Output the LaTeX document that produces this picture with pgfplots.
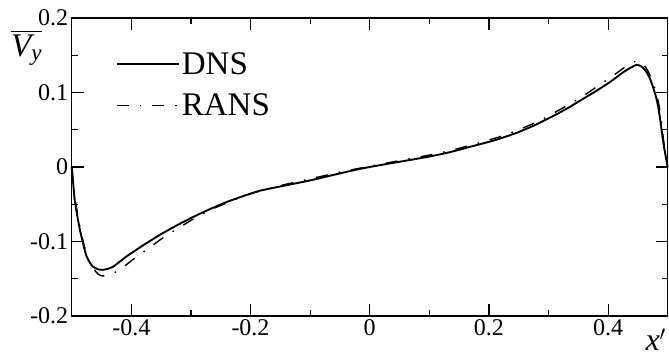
\documentclass[border=0pt]{standalone}
\usepackage{pgfplots}
\pgfplotsset{compat=1.18}
\usepackage{amsmath}
\usepackage{fontspec}
\setmainfont{Liberation Serif}

\pgfplotstableread{
x y
-0.5 0
-0.4975 -0.022
-0.495 -0.044
-0.4905 -0.066
-0.486 -0.085
-0.4805 -0.104
-0.475 -0.120
-0.469 -0.129
-0.464 -0.134
-0.455 -0.1375
-0.447 -0.138
-0.439 -0.1365
-0.431 -0.134
-0.42 -0.1275
-0.408 -0.120
-0.394 -0.1125
-0.38 -0.105
-0.366 -0.098
-0.352 -0.091
-0.324 -0.0785
-0.296 -0.067
-0.268 -0.0565
-0.24 -0.047
-0.212 -0.039
-0.185 -0.032
-0.14 -0.0245
-0.1 -0.018
-0.06 -0.0105
-0.025 -0.004
0 0
0.05 0.007
0.1 0.014
0.135 0.020
0.168 0.027
0.21 0.036
0.247 0.046
0.275 0.0555
0.302 0.066
0.33 0.078
0.357 0.091
0.38 0.102
0.403 0.114
0.415 0.121
0.425 0.127
0.436 0.1325
0.4475 0.137
0.456 0.135
0.464 0.128
0.47 0.119
0.475 0.108
0.48 0.095
0.484 0.081
0.488 0.060
0.492 0.036
0.496 0.017
0.5 0
}\dns

\pgfplotstableread{
x y
-0.5 0
-0.497 -0.022
-0.494 -0.044
-0.4895 -0.066
-0.485 -0.085
-0.4795 -0.104
-0.474 -0.120
-0.468 -0.131
-0.462 -0.138
-0.456 -0.1435
-0.45 -0.146
-0.44 -0.146
-0.43 -0.1425
-0.42 -0.138
-0.408 -0.131
-0.397 -0.124
-0.384 -0.1165
-0.371 -0.109
-0.358 -0.1015
-0.345 -0.094
-0.319 -0.081
-0.292 -0.068
-0.26 -0.055
-0.23 -0.045
-0.2 -0.036
-0.15 -0.025
-0.1 -0.016
-0.05 -0.007
0 0.001
0.05 0.0085
0.1 0.016
0.135 0.022
0.168 0.029
0.22 0.041
0.25 0.050
0.282 0.061
0.31 0.073
0.339 0.086
0.365 0.099
0.389 0.112
0.416 0.127
0.43 0.135
0.443 0.141
0.452 0.142
0.46 0.137
0.466 0.130
0.472 0.120
0.477 0.109
0.482 0.095
0.486 0.080
0.49 0.058
0.493 0.036
0.497 0.015
0.5 0
}\rans

\begin{document}
\begin{tikzpicture}
\begin{axis}[
  scale only axis, width=596pt, height=298pt,
  xmin=-0.5, xmax=0.5, ymin=-0.2, ymax=0.2,
  xtick={-0.4,-0.2,0,0.2,0.4},
  xticklabels={\textrm{-0.4},\textrm{-0.2},\textrm{0},\textrm{0.2},\textrm{0.4}},
  ytick={-0.2,-0.1,0,0.1,0.2},
  yticklabels={\textrm{-0.2},\textrm{-0.1},\textrm{0},\textrm{0.1},\textrm{0.2}},
  minor x tick num=1, minor y tick num=1,
  tick align=inside, major tick length=12pt, minor tick length=6pt,
  axis line style={line width=1.5pt},
  every tick/.style={line width=1.2pt, black},
  tick label style={font=\fontsize{24}{24}\selectfont},
  clip=false,
  legend cell align=left,
  legend style={draw=none, fill=none, inner sep=0pt, at={(rel axis cs:0.074,0.885)}, anchor=north west,
    font=\fontsize{33}{33}\selectfont, row sep=18pt,
    nodes={inner xsep=2pt, inner ysep=0pt}},
  legend image code/.code={\draw[#1] (0pt,0pt) -- (62pt,0pt);},
]
\addplot[black, line width=1.9pt, smooth, tension=0.4] table[x=x,y=y]{\dns};
\addlegendentry{DNS}
\addplot[black, line width=1.4pt, smooth, tension=0.4, dash pattern=on 12pt off 11pt on 1.5pt off 11pt] table[x=x,y=y]{\rans};
\addlegendentry{RANS}
\coordinate (A) at (rel axis cs:0,0);
\coordinate (B) at (rel axis cs:1,1);
\node[font=\fontsize{33}{33}\selectfont, inner sep=0pt] at ([xshift=-45pt,yshift=-30pt]rel axis cs:0,1) {$\overline{\text{\itshape V}_{\text{\itshape y}}}$};
\node[font=\fontsize{32}{32}\selectfont, inner sep=0pt, anchor=base] at ([xshift=-12pt,yshift=-34pt]rel axis cs:1,0) {\itshape x$'$};
\end{axis}
\path[use as bounding box] ([xshift=-71.7pt,yshift=-41pt]A) rectangle ([xshift=1.3pt,yshift=18pt]B);
\end{tikzpicture}
\end{document}
